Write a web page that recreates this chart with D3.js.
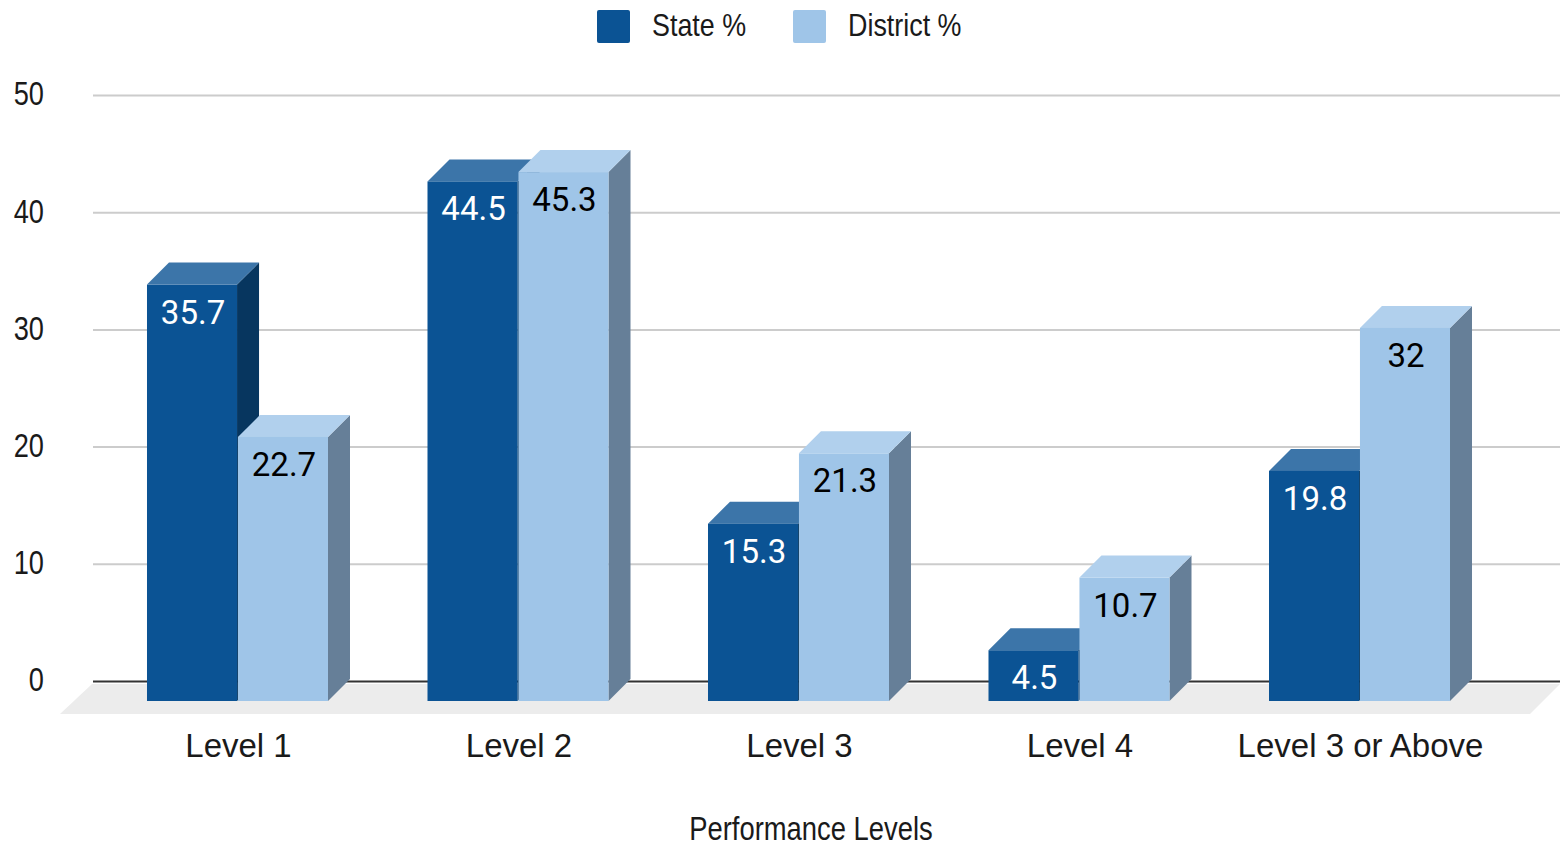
<!DOCTYPE html>
<html>
<head>
<meta charset="utf-8">
<script src="https://cdn.jsdelivr.net/npm/d3@7"></script>
<style>
  html, body { margin: 0; padding: 0; background: #fff; overflow: hidden; }
  text { font-family: "Liberation Sans", sans-serif; }
</style>
</head>
<body>
<svg id="canvas" width="1560" height="844"></svg>
<script>
// Data
let categories = ['Level 1', 'Level 2', 'Level 3', 'Level 4', 'Level 3 or Above']
let seriesNames = ['State %', 'District %']
let stateValues = [35.7, 44.5, 15.3, 4.5, 19.8]
let districtValues = [22.7, 45.3, 21.3, 10.7, 32]
let yTicks = [0, 10, 20, 30, 40, 50]

// Colours per series: front, top and side of the box, label text
let colors = {
    'State %': { front: '#0b5394', top: '#3c75a9', side: '#07365f', label: '#ffffff' },
    'District %': { front: '#9fc5e8', top: '#b1d0ed', side: '#667f98', label: '#000000' }
}

let canvas = d3.select('#canvas')

let depth = 22 // how far the box goes back
let baseY = 681
let floorY = 701
let textColor = '#1a1a1a'

let y = d3.scaleLinear().domain([0, 50]).range([baseY, 95])
let x = d3.scaleBand().domain(categories).range([47.5, 1549.5]).padding(0.3547)
// tiny gap so the dark side of the state box shows as a line between the two bars
let xInner = d3.scaleBand().domain(seriesNames).range([0, x.bandwidth()]).paddingInner(0.01)

// squeeze text horizontally, the reference has narrow legend and y axis text
let squeeze = (sel, ratio) => {
    sel.each(function () {
        let len = this.getComputedTextLength()
        d3.select(this).attr('textLength', len * ratio).attr('lengthAdjust', 'spacingAndGlyphs')
    })
}

// Floor
canvas.append('path')
    .attr('d', d3.line()([[60, 714], [1530, 714], [1560, 684], [92, 684]]) + 'Z')
    .attr('fill', '#ececec')

// Y axis and gridlines
let yAxis = canvas.append('g')
    .attr('transform', 'translate(93,0)')
    .call(d3.axisLeft(y).tickValues(yTicks).tickSize(-1467).tickPadding(49))
yAxis.select('.domain').remove()
yAxis.selectAll('.tick line')
    .attr('stroke', d => d === 0 ? '#333333' : '#cccccc')
    .attr('stroke-width', 2)
yAxis.selectAll('.tick text')
    .attr('fill', textColor)
    .attr('dy', '0.29em')
    .style('font-size', '34px')
    .style('font-family', '"Liberation Sans", sans-serif')
    .call(squeeze, 0.8)

// X axis
let xAxis = canvas.append('g')
    .attr('transform', `translate(1,${floorY})`)
    .call(d3.axisBottom(x).tickSize(0).tickPadding(33))
xAxis.select('.domain').remove()
xAxis.selectAll('.tick text')
    .attr('fill', textColor)
    .style('font-size', '33px')
    .style('font-family', '"Liberation Sans", sans-serif')

// Bars
let drawSeries = (name, values) => {
    let c = colors[name]
    let w = xInner.bandwidth()
    let group = canvas.append('g')
        .selectAll('g')
        .data(values.map((v, i) => ({ cat: categories[i], value: v })))
        .enter()
        .append('g')
        .attr('transform', d => `translate(${x(d.cat) + xInner(name)},0)`)

    // y(value) is the back edge of the top, the front face sits depth lower
    group.append('path')
        .attr('d', d => {
            let t = y(d.value)
            return `M${w},${t + depth}L${w + depth},${t}L${w + depth},${baseY - 2}L${w},${floorY}Z`
        })
        .attr('fill', c.side)
    group.append('path')
        .attr('d', d => {
            let t = y(d.value)
            return `M0,${t + depth}L${depth},${t}L${w + depth},${t}L${w},${t + depth}Z`
        })
        .attr('fill', c.top)
    group.append('rect')
        .attr('width', w)
        .attr('y', d => y(d.value) + depth)
        .attr('height', d => floorY - y(d.value) - depth)
        .attr('fill', c.front)
    group.append('text')
        .attr('x', w / 2 + 1)
        .attr('y', d => y(d.value) + depth + 39)
        .attr('text-anchor', 'middle')
        .attr('fill', c.label)
        .style('font-family', 'Roboto, sans-serif')
        .style('font-size', '33px')
        .text(d => d.value)
}

// district goes on top of state
drawSeries('State %', stateValues)
drawSeries('District %', districtValues)

// Legend
let legendX = d3.scaleOrdinal().domain(seriesNames).range([597, 793])
let legend = canvas.append('g')
    .selectAll('g')
    .data(seriesNames)
    .enter()
    .append('g')
    .attr('transform', d => `translate(${legendX(d)},10)`)
legend.append('rect')
    .attr('width', 33)
    .attr('height', 33)
    .attr('rx', 2)
    .attr('fill', d => colors[d].front)
legend.append('text')
    .attr('x', 55)
    .attr('y', 26)
    .attr('fill', textColor)
    .style('font-size', '32px')
    .text(d => d)
    .call(squeeze, 0.84)

// Axis title
canvas.append('text')
    .attr('x', 811)
    .attr('y', 840)
    .attr('text-anchor', 'middle')
    .attr('fill', textColor)
    .style('font-size', '33px')
    .text('Performance Levels')
    .call(squeeze, 0.83)
</script>
</body>
</html>
